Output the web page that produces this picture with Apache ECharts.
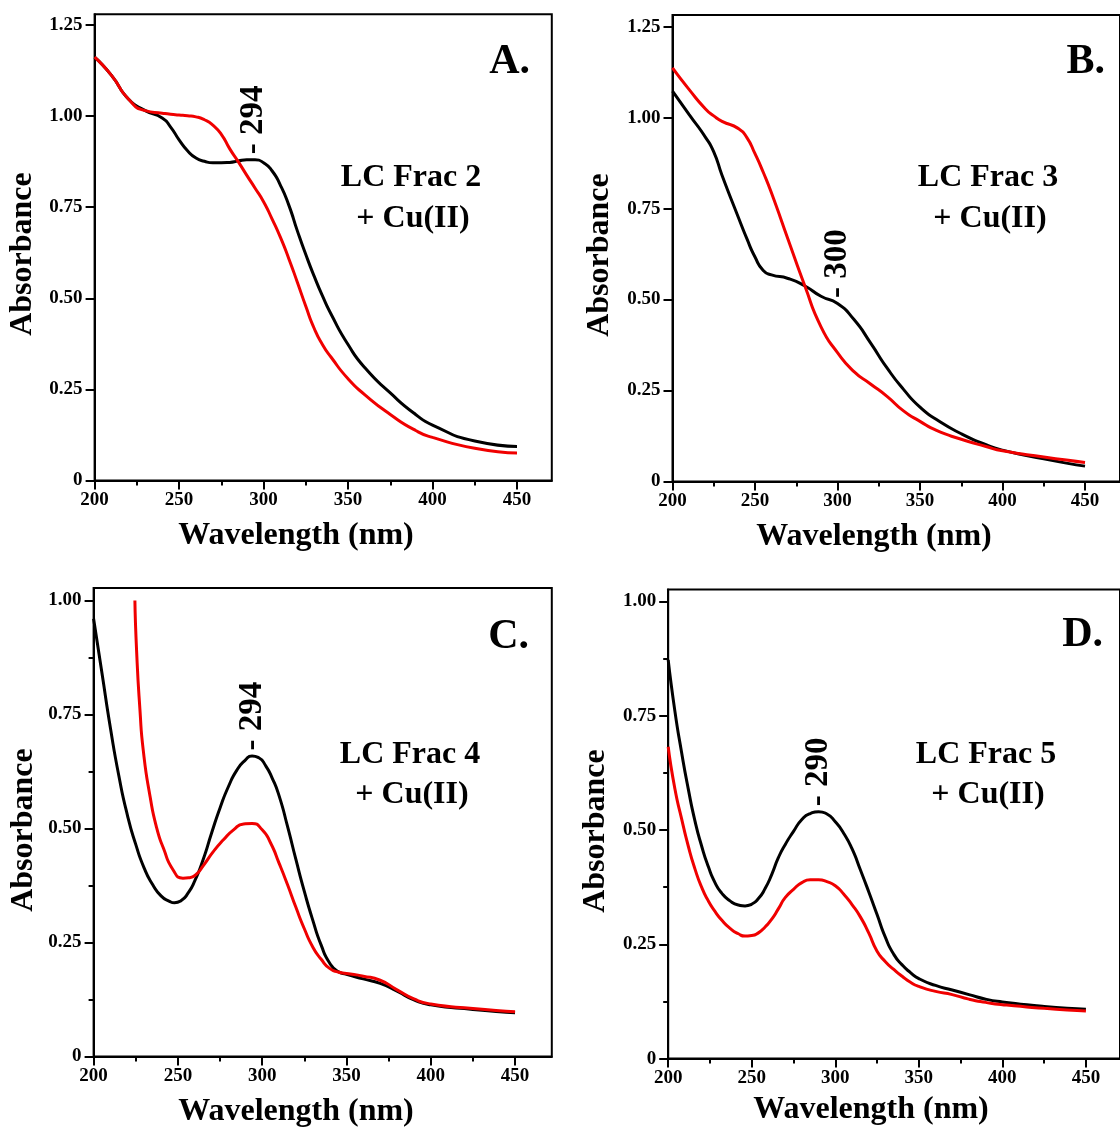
<!DOCTYPE html>
<html>
<head>
<meta charset="utf-8">
<script src="https://cdn.jsdelivr.net/npm/echarts@6/dist/echarts.min.js"></script>
<style>
  html, body { margin: 0; padding: 0; background: #fff; }
  #chart { width: 1120px; height: 1128px; }
</style>
</head>
<body>
<div id="chart"></div>
<script>
// ---------------- DATA ----------------
const xTickValues = [200, 250, 300, 350, 400, 450];
const xMinorTickValues = [225, 275, 325, 375, 425];
const yTickValuesAB = [0, 0.25, 0.5, 0.75, 1.0, 1.25];
const yTickValuesCD = [0, 0.25, 0.5, 0.75, 1.0];
const yMinorTickValuesCD = [0.125, 0.375, 0.625, 0.875];

// Panel A: LC Frac 2 + Cu(II)
const wlA = [200, 210, 220, 230, 240, 245, 250, 255, 260, 265, 270, 275, 280, 285, 290, 295, 300, 305, 310, 315, 320, 325, 330, 335, 340, 350, 360, 375, 390, 400, 425, 450];
const blackA = [1.162, 1.112, 1.047, 1.015, 0.995, 0.970, 0.935, 0.905, 0.885, 0.876, 0.872, 0.872, 0.873, 0.877, 0.880, 0.880, 0.872, 0.850, 0.810, 0.755, 0.685, 0.620, 0.560, 0.505, 0.456, 0.373, 0.309, 0.240, 0.181, 0.152, 0.108, 0.093];
const redA   = [1.162, 1.112, 1.047, 1.015, 1.008, 1.005, 1.003, 1.001, 0.998, 0.990, 0.975, 0.950, 0.910, 0.875, 0.838, 0.802, 0.765, 0.718, 0.667, 0.608, 0.544, 0.478, 0.417, 0.372, 0.338, 0.279, 0.235, 0.181, 0.137, 0.118, 0.088, 0.075];

// Panel B: LC Frac 3 + Cu(II)
const wlB = [200, 210, 220, 225, 230, 240, 245, 250, 255, 260, 270, 280, 290, 300, 310, 320, 330, 340, 350, 360, 375, 390, 400, 425, 450];
const blackB = [1.073, 1.009, 0.946, 0.906, 0.842, 0.725, 0.668, 0.617, 0.580, 0.568, 0.558, 0.538, 0.509, 0.489, 0.445, 0.381, 0.312, 0.253, 0.204, 0.170, 0.131, 0.101, 0.086, 0.062, 0.042];
const redB   = [1.137, 1.078, 1.024, 1.005, 0.990, 0.970, 0.946, 0.901, 0.850, 0.793, 0.666, 0.540, 0.425, 0.354, 0.302, 0.268, 0.234, 0.194, 0.165, 0.140, 0.116, 0.096, 0.084, 0.067, 0.052];

// Panel C: LC Frac 4 + Cu(II)
const wlC = [200, 205, 210, 215, 220, 225, 230, 235, 240, 245, 248, 252, 256, 260, 265, 270, 275, 280, 285, 290, 294, 298, 302, 306, 310, 315, 320, 325, 330, 335, 340, 345, 350, 360, 370, 380, 390, 400, 425, 450];
const blackC = [0.960, 0.840, 0.720, 0.615, 0.530, 0.465, 0.413, 0.377, 0.352, 0.340, 0.337, 0.342, 0.358, 0.385, 0.432, 0.490, 0.545, 0.592, 0.628, 0.650, 0.659, 0.655, 0.638, 0.610, 0.572, 0.505, 0.432, 0.362, 0.299, 0.244, 0.205, 0.186, 0.180, 0.170, 0.160, 0.143, 0.124, 0.113, 0.103, 0.096];
const wlCred = [224.5, 225.5, 227.5, 229.5, 233.5, 237.5, 241.5, 247, 253, 257, 261, 265, 271, 277, 283, 289, 294, 300, 305, 310, 315, 320, 325, 330, 335, 340, 345, 350, 360, 370, 380, 390, 400, 425, 450];
const redC = [1.000, 0.890, 0.760, 0.670, 0.570, 0.500, 0.456, 0.410, 0.391, 0.392, 0.400, 0.418, 0.449, 0.475, 0.497, 0.510, 0.511, 0.497, 0.468, 0.424, 0.377, 0.327, 0.280, 0.240, 0.213, 0.193, 0.185, 0.182, 0.176, 0.167, 0.146, 0.126, 0.115, 0.105, 0.098];

// Panel D: LC Frac 5 + Cu(II)
const wlD = [200, 204, 208, 212, 216, 220, 224, 228, 232, 237, 242, 246, 250, 254, 258, 262, 266, 270, 275, 280, 285, 290, 295, 300, 305, 310, 315, 320, 325, 330, 335, 340, 345, 350, 360, 370, 380, 390, 400, 425, 450];
const blackD = [0.872, 0.760, 0.670, 0.590, 0.520, 0.465, 0.420, 0.385, 0.362, 0.345, 0.336, 0.334, 0.338, 0.350, 0.372, 0.403, 0.440, 0.468, 0.497, 0.523, 0.536, 0.540, 0.535, 0.518, 0.493, 0.459, 0.413, 0.365, 0.315, 0.265, 0.228, 0.205, 0.188, 0.175, 0.160, 0.150, 0.140, 0.130, 0.124, 0.114, 0.108];
const redD   = [0.682, 0.590, 0.525, 0.465, 0.415, 0.375, 0.345, 0.322, 0.303, 0.285, 0.273, 0.268, 0.269, 0.275, 0.288, 0.305, 0.328, 0.352, 0.370, 0.385, 0.391, 0.391, 0.387, 0.378, 0.360, 0.337, 0.310, 0.275, 0.235, 0.212, 0.195, 0.180, 0.167, 0.158, 0.147, 0.140, 0.130, 0.123, 0.118, 0.110, 0.104];

// Peak annotations
const peakLabels = ['- 294', '- 300', '- 294', '- 290'];
const peakWl = [294, 300, 294, 290];
const peakAbs = [0.880, 0.489, 0.659, 0.540];

const panelLetters = ['A.', 'B.', 'C.', 'D.'];
const fractionNames = ['LC Frac 2', 'LC Frac 3', 'LC Frac 4', 'LC Frac 5'];
const treatment = '+ Cu(II)';
const xTitle = 'Wavelength (nm)';
const yTitle = 'Absorbance';

// ---------------- LAYOUT ----------------
const FONT = '"Liberation Serif", "Times New Roman", serif';
const RED = '#f00000';
const panels = [
  { grid: { left: 94.6, top: 14.3, width: 457.2, height: 466.1 }, xMax: 470.6, yMax: 1.2795, yTicks: yTickValuesAB, yMinor: [],
    series: [[wlA, blackA], [wlA, redA]] },
  { grid: { left: 672.5, top: 15, width: 457.2, height: 466.4 }, xMax: 471.2, yMax: 1.2824, yTicks: yTickValuesAB, yMinor: [],
    series: [[wlB, blackB], [wlB, redB]] },
  { grid: { left: 93.6, top: 588, width: 458.2, height: 468.4 }, xMax: 471.8, yMax: 1.0274, yTicks: yTickValuesCD, yMinor: yMinorTickValuesCD,
    series: [[wlC, blackC], [wlCred, redC]] },
  { grid: { left: 668.2, top: 589.6, width: 457.2, height: 469 }, xMax: 470.4, yMax: 1.0258, yTicks: yTickValuesCD, yMinor: yMinorTickValuesCD,
    series: [[wlD, blackD], [wlD, redD]] }
];

const textPos = [
  { letter: [530, 62], frac: [411, 178], cu: [413, 219], yt: [23, 254], xt: [296, 536] },
  { letter: [1105, 62], frac: [988, 178], cu: [990, 219], yt: [600, 255], xt: [874, 537] },
  { letter: [529, 637], frac: [410, 755], cu: [412, 795], yt: [24, 830], xt: [296, 1112] },
  { letter: [1103, 635], frac: [986, 755], cu: [988, 795], yt: [596, 831], xt: [871, 1110] }
];

const zip = (xs, ys) => xs.map((x, i) => [x, ys[i]]);

const grids = [], xAxes = [], yAxes = [], series = [], graphics = [];
panels.forEach((p, i) => {
  grids.push(Object.assign({ show: true, borderColor: '#000', borderWidth: 2, backgroundColor: 'transparent' }, p.grid));
  // major x axis
  xAxes.push({
    type: 'value', gridIndex: i, min: 200, max: p.xMax, position: 'bottom',
    axisLine: { show: true, onZero: false, lineStyle: { color: '#000', width: 2 } },
    axisTick: { show: true, inside: false, length: 9, lineStyle: { color: '#000', width: 2 }, customValues: xTickValues },
    axisLabel: { show: true, margin: 10, color: '#000', fontFamily: FONT, fontWeight: 'bold', fontSize: 19, customValues: xTickValues },
    splitLine: { show: false }
  });
  // minor x ticks
  xAxes.push({
    type: 'value', gridIndex: i, min: 200, max: p.xMax, position: 'bottom', offset: 0,
    axisLine: { show: false, onZero: false },
    axisTick: { show: true, inside: false, length: 5, lineStyle: { color: '#000', width: 2 }, customValues: xMinorTickValues },
    axisLabel: { show: false }, splitLine: { show: false }
  });
  yAxes.push({
    type: 'value', gridIndex: i, min: 0, max: p.yMax, position: 'left',
    axisLine: { show: true, onZero: false, lineStyle: { color: '#000', width: 2 } },
    axisTick: { show: true, inside: false, length: 9, lineStyle: { color: '#000', width: 2 }, customValues: p.yTicks },
    axisLabel: { show: true, margin: 12, color: '#000', fontFamily: FONT, fontWeight: 'bold', fontSize: 19, customValues: p.yTicks,
      formatter: v => (v === 0 ? '0' : v.toFixed(2)) },
    splitLine: { show: false }
  });
  yAxes.push({
    type: 'value', gridIndex: i, min: 0, max: p.yMax, position: 'left', offset: 0,
    axisLine: { show: false, onZero: false },
    axisTick: { show: p.yMinor.length > 0, inside: false, length: 5, lineStyle: { color: '#000', width: 2 }, customValues: p.yMinor.length ? p.yMinor : [0] },
    axisLabel: { show: false }, splitLine: { show: false }
  });
  const colors = ['#000', RED];
  p.series.forEach((s, k) => {
    series.push({
      type: 'line', xAxisIndex: 2 * i, yAxisIndex: 2 * i, data: zip(s[0], s[1]),
      showSymbol: false, symbol: 'none', smooth: 0.6, clip: true,
      lineStyle: { color: colors[k], width: 3 }, z: 3 + k
    });
  });
  series.push({
    type: 'scatter', xAxisIndex: 2 * i, yAxisIndex: 2 * i,
    data: [[peakWl[i], peakAbs[i]]], symbol: 'circle', symbolSize: 1,
    itemStyle: { color: 'transparent', opacity: 1 }, silent: true, z: 6,
    label: { show: true, formatter: peakLabels[i], position: 'top', distance: 5, rotate: 90, opacity: 1,
      align: 'left', verticalAlign: 'middle', color: '#000', fontFamily: FONT, fontWeight: 'bold', fontSize: 33 }
  });
  const t = textPos[i];
  const txt = (pos, text, size, align, rot) => ({
    type: 'text', x: pos[0], y: pos[1], rotation: rot || 0, silent: true, z: 10,
    style: { text, font: 'bold ' + size + 'px ' + FONT, fill: '#000', align, verticalAlign: 'middle', textAlign: align, textVerticalAlign: 'middle' }
  });
  graphics.push(txt(t.letter, panelLetters[i], 42, 'right'));
  graphics.push(txt(t.frac, fractionNames[i], 32, 'center'));
  graphics.push(txt(t.cu, treatment, 32, 'center'));
  graphics.push(txt(t.yt, yTitle, 32, 'center', Math.PI / 2));
  graphics.push(txt(t.xt, xTitle, 32, 'center'));
});

const chart = echarts.init(document.getElementById('chart'), null, { renderer: 'canvas' });
chart.setOption({
  animation: false,
  backgroundColor: '#fff',
  grid: grids,
  xAxis: xAxes,
  yAxis: yAxes,
  series: series,
  graphic: graphics
});
</script>
</body>
</html>
